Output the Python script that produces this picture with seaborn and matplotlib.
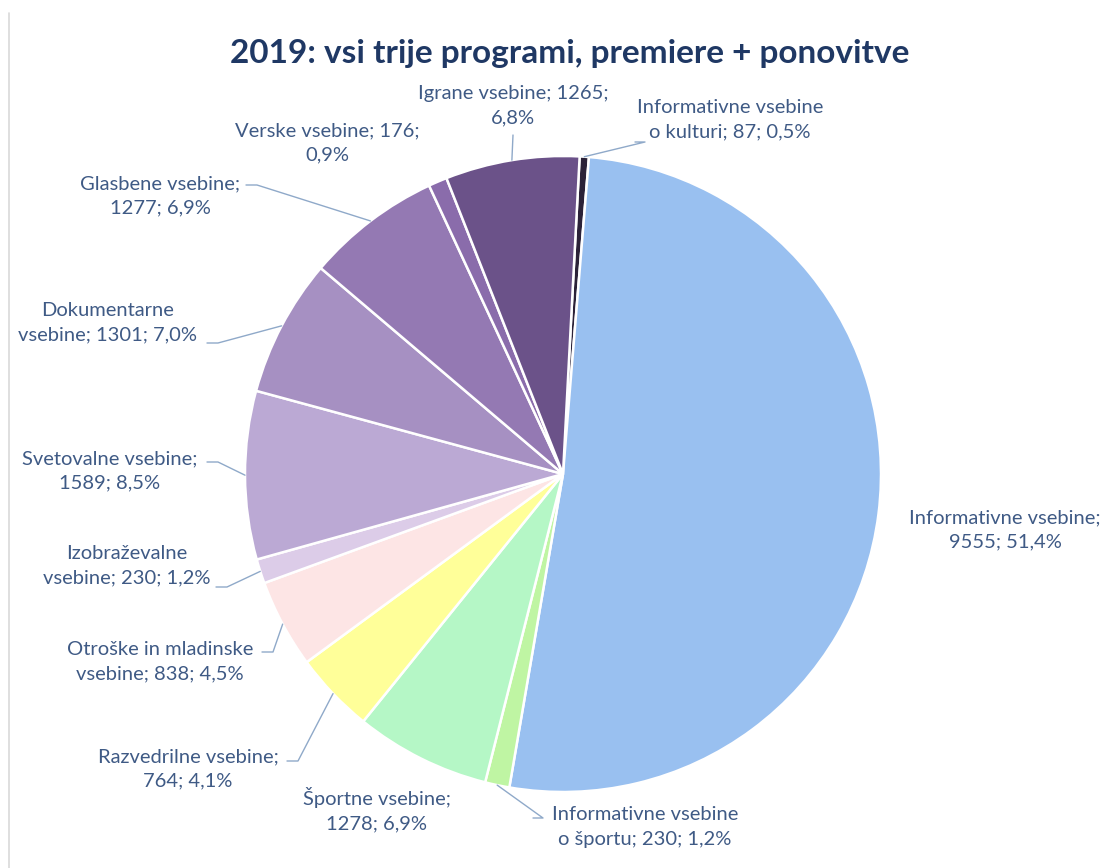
import matplotlib

matplotlib.use("Agg")
import matplotlib.pyplot as plt
from matplotlib.lines import Line2D
import numpy as np
import seaborn as sns

# data, clockwise from the top
categories = [
    "Informativne vsebine o kulturi",
    "Informativne vsebine",
    "Informativne vsebine o športu",
    "Športne vsebine",
    "Razvedrilne vsebine",
    "Otroške in mladinske vsebine",
    "Izobraževalne vsebine",
    "Svetovalne vsebine",
    "Dokumentarne vsebine",
    "Glasbene vsebine",
    "Verske vsebine",
    "Igrane vsebine",
]
values = [87, 9555, 230, 1278, 764, 838, 230, 1589, 1301, 1277, 176, 1265]
label_lines = [
    ("Informativne vsebine", "o kulturi; {v}; {p}"),
    ("Informativne vsebine;", "{v}; {p}"),
    ("Informativne vsebine", "o športu; {v}; {p}"),
    ("Športne vsebine;", "{v}; {p}"),
    ("Razvedrilne vsebine;", "{v}; {p}"),
    ("Otroške in mladinske", "vsebine; {v}; {p}"),
    ("Izobraževalne", "vsebine; {v}; {p}"),
    ("Svetovalne vsebine;", "{v}; {p}"),
    ("Dokumentarne", "vsebine; {v}; {p}"),
    ("Glasbene vsebine;", "{v}; {p}"),
    ("Verske vsebine; {v};", "{p}"),
    ("Igrane vsebine; {v};", "{p}"),
]
colors = [
    "#2b2238", "#99c0f0", "#bff5a3", "#b5f7c6", "#ffff99", "#fde5e5",
    "#dccce8", "#bba9d4", "#a690c2", "#9479b3", "#8a6cab", "#6b5289",
]
title = "2019: vsi trije programi, premiere + ponovitve"

# layout (pixel coordinates, y from top): label centre and leader start
label_pos = [
    (730, 120), (1005, 530), (645, 827), (377, 810), (188, 769), (160, 662),
    (127, 566), (110, 471), (108, 323), (160, 196), (327, 143), (513, 106),
]
leader_start = [
    (645, 142), None, (543, 818), None, (298, 761), (273, 652),
    (227, 587), (218, 462), (218, 343), (257, 185), None, (513, 135),
]
W, H = 1108, 868
CX, CY, R = 563, 474, 318

sns.set_theme(style="white")
plt.rcParams["font.family"] = ["Lato", "DejaVu Sans"]

fig = plt.figure(figsize=(W / 100, H / 100), dpi=100)
ax = fig.add_axes([0, 0, 1, 1])

wedges, _ = ax.pie(
    values,
    colors=colors,
    startangle=87,
    counterclock=False,
    radius=R,
    center=(CX, H - CY),
    wedgeprops=dict(edgecolor="white", linewidth=1.8),
    frame=True,
)
ax.set_xlim(0, W)
ax.set_ylim(0, H)
ax.set_aspect("equal")
ax.axis("off")

total = sum(values)
text_color = "#3f5a85"
line_color = "#8fa9c9"
for i, w in enumerate(wedges):
    pct = f"{values[i] / total * 100:.1f}".replace(".", ",") + "%"
    l1, l2 = label_lines[i]
    txt = l1.format(v=values[i], p=pct) + "\n" + l2.format(v=values[i], p=pct)
    lx, ly = label_pos[i]
    ax.text(lx, H - ly, txt, ha="center", va="center", fontsize=14.5,
            color=text_color, linespacing=1.55)
    if leader_start[i] is not None:
        mid = np.deg2rad((w.theta1 + w.theta2) / 2)
        ex, ey = CX + R * np.cos(mid), H - CY + R * np.sin(mid)
        sx, sy = leader_start[i]
        if i in (0, 2):
            hx = sx - 10
        elif i == 11:
            hx = sx
        else:
            hx = sx - 11
        ax.plot([hx, sx, ex], [H - sy, H - sy, ey], color=line_color, lw=1)

ax.text(570, H - 54, title, ha="center", va="center", fontsize=24,
        fontweight="bold", color="#1f3864")

fig.add_artist(Line2D([9 / W, 9 / W], [0, 1 - 13 / H], color="#d9d9d9", lw=1.2))

fig.savefig("out.png", dpi=100)
